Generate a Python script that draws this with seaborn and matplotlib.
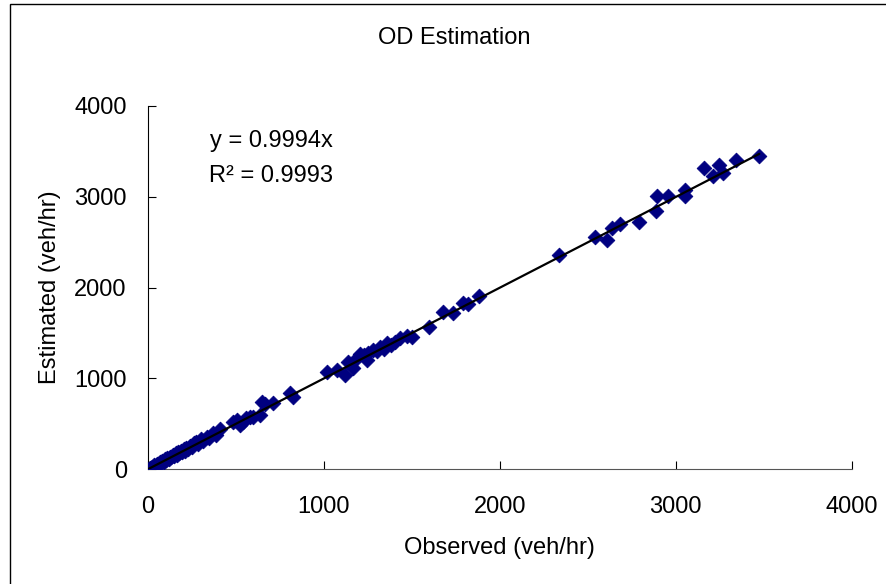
import numpy as np
import pandas as pd
import matplotlib
matplotlib.use("Agg")
import matplotlib.pyplot as plt
from matplotlib.patches import Rectangle
import seaborn as sns

# ---- data ----
observed = [5, 12, 18, 25, 30, 38, 45, 52, 60, 68, 75, 82, 90, 98, 105, 112, 120,
            128, 135, 142, 150, 158, 165, 172, 180, 188, 195, 205, 212, 220, 230,
            240, 250, 262, 275, 285, 300, 315, 335, 350, 372, 390, 410,
            486, 505, 524, 543, 560, 581, 600, 638, 648, 665, 714, 809, 827,
            1017, 1074, 1120, 1140, 1168, 1187, 1206, 1230, 1244, 1253, 1282, 1300,
            1320, 1340, 1358, 1380, 1405, 1434, 1472, 1500, 1600,
            1680, 1737, 1793, 1822, 1884,
            2337, 2541, 2608, 2636, 2684, 2792, 2888, 2896, 2958, 3053, 3053,
            3161, 3214, 3248, 3267, 3343, 3475]
estimated = [8, 15, 10, 30, 22, 45, 40, 60, 55, 75, 70, 95, 85, 110, 100, 125, 118,
             140, 130, 160, 148, 175, 160, 190, 178, 205, 190, 220, 200, 240, 225,
             262, 245, 285, 300, 275, 330, 310, 360, 345, 395, 380, 440,
             525, 540, 488, 525, 560, 580, 575, 598, 745, 720, 727, 837, 800,
             1070, 1094, 1040, 1186, 1120, 1223, 1270, 1255, 1204, 1285, 1315, 1300,
             1351, 1330, 1388, 1370, 1406, 1443, 1469, 1462, 1565,
             1737, 1726, 1836, 1821, 1910,
             2361, 2557, 2527, 2656, 2703, 2718, 2839, 3004, 3004, 3078, 3004,
             3317, 3224, 3353, 3262, 3401, 3450]
slope = 0.9994
eq_text = "y = 0.9994x"
r2_text = "R² = 0.9993"
title = "OD Estimation"
x_label = "Observed (veh/hr)"
y_label = "Estimated (veh/hr)"
ticks = [0, 1000, 2000, 3000, 4000]

df = pd.DataFrame({"Observed": observed, "Estimated": estimated})

sns.set_theme(style="white")
plt.rcParams["font.family"] = ["Liberation Sans", "DejaVu Sans"]
plt.rcParams["text.color"] = "black"
plt.rcParams["axes.labelcolor"] = "black"

W, H = 886, 584
fig = plt.figure(figsize=(W / 100, H / 100), dpi=100)
fig.patch.set_facecolor("white")

x0, x1 = 147.7, 851.7
y0, y1 = 469.3, 106.0
ax = fig.add_axes([x0 / W, 1 - y0 / H, (x1 - x0) / W, (y0 - y1) / H])
ax.set_facecolor("white")

sns.scatterplot(data=df, x="Observed", y="Estimated", ax=ax, marker="D",
                s=56, color="#000080", edgecolor="#000080", linewidth=0.6,
                zorder=3, legend=False)
xl = np.array([0, max(observed)])
ax.plot(xl, slope * xl, color="black", linewidth=1.6, zorder=4)

ax.set_xlim(0, 4000)
ax.set_ylim(0, 4000)
ax.set_xticks(ticks)
ax.set_yticks(ticks)
ax.set_xticklabels([str(t) for t in ticks])
ax.set_yticklabels([str(t) for t in ticks])
ax.set_xlabel("")
ax.set_ylabel("")
for s in ["top", "right"]:
    ax.spines[s].set_visible(False)
ax.spines["left"].set_color("black")
ax.spines["bottom"].set_color("#555555")
ax.spines["left"].set_linewidth(0.8)
ax.spines["bottom"].set_linewidth(0.8)
ax.tick_params(axis="both", which="major", direction="in", length=6, width=0.8,
               color="black", labelsize=17, labelcolor="black",
               bottom=True, left=True, top=False, right=False)
ax.tick_params(axis="y", pad=15)
ax.tick_params(axis="x", pad=19)

fs = 17
fig.text(454 / W, 1 - 44 / H, title, ha="center", va="baseline", fontsize=fs)
fig.text(499.5 / W, 1 - 554 / H, x_label, ha="center", va="baseline", fontsize=fs)
fig.text(50 / W, 1 - 287 / H, y_label, ha="center", va="center", rotation=90, fontsize=fs)
fig.text(271 / W, 1 - 146.7 / H, eq_text, ha="center", va="baseline", fontsize=fs)
fig.text(271 / W, 1 - 181.7 / H, r2_text, ha="center", va="baseline", fontsize=fs)

fig.patches.append(Rectangle((10 / W, -0.1), 1.2, 1 - 4 / H + 0.1,
                             transform=fig.transFigure, fill=False,
                             edgecolor="black", linewidth=1.0))

fig.savefig("out.png", dpi=100)
